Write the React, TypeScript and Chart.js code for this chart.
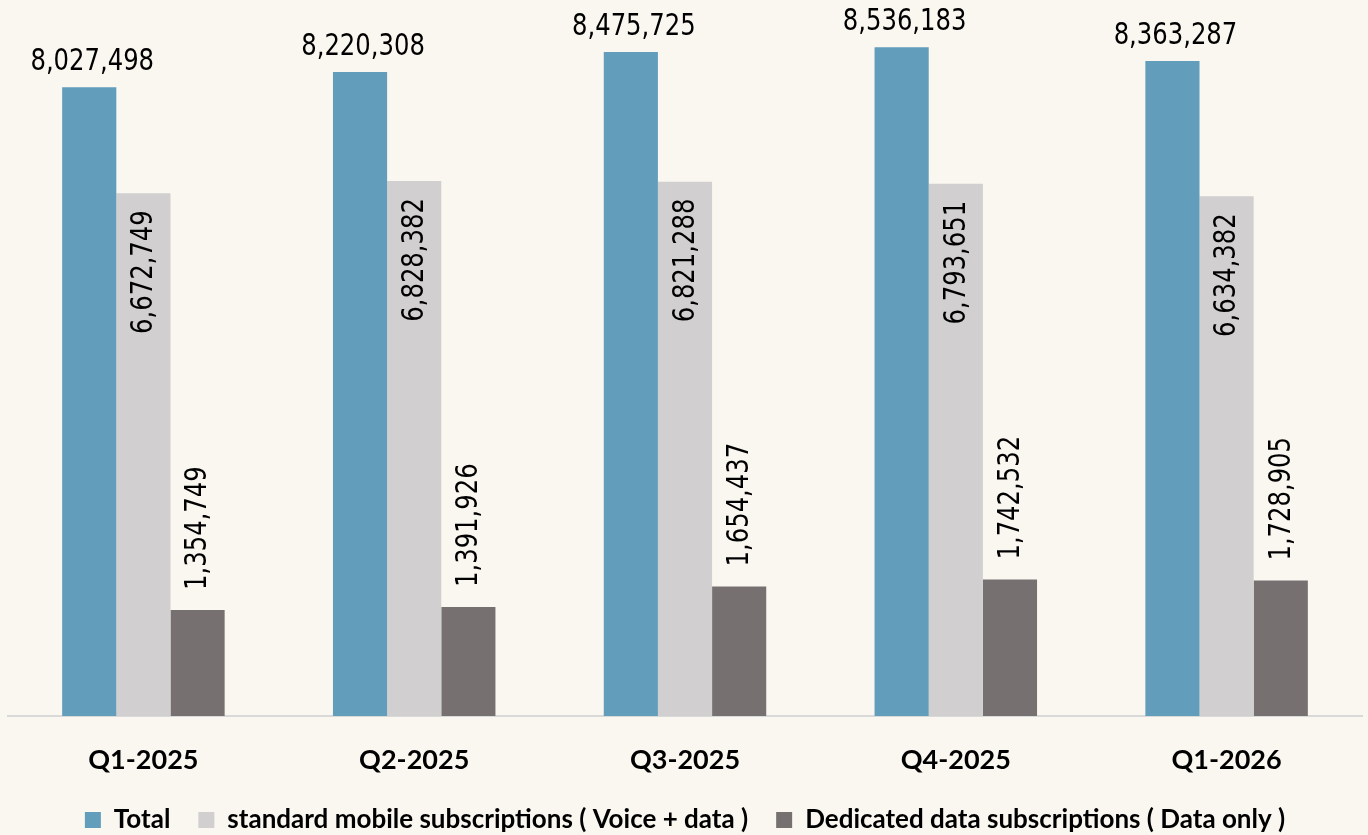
import React, { useEffect, useRef } from "react";
import { Chart, registerables } from "chart.js";

Chart.register(...registerables);

const categories = ["Q1-2025", "Q2-2025", "Q3-2025", "Q4-2025", "Q1-2026"];
const totalValues = [8027498, 8220308, 8475725, 8536183, 8363287];
const standardValues = [6672749, 6828382, 6821288, 6793651, 6634382];
const dedicatedValues = [1354749, 1391926, 1654437, 1742532, 1728905];
const seriesNames = [
  "Total",
  "standard mobile subscriptions ( Voice + data )",
  "Dedicated data subscriptions ( Data only )",
];

const BG = "#faf7f0";
const LABEL_FONT = "30px 'DejaVu Sans Condensed', sans-serif";
const LABEL_SQUEEZE = 0.9;

const fmt = (v: number) => v.toLocaleString("en-US");

const labelPlugin = {
  id: "barLabels",
  afterDatasetsDraw(chart: any) {
    const ctx = chart.ctx;
    ctx.save();
    ctx.fillStyle = "#000";
    ctx.font = LABEL_FONT;
    chart.data.datasets.forEach((ds: any, di: number) => {
      const meta = chart.getDatasetMeta(di);
      meta.data.forEach((el: any, i: number) => {
        const v = ds.data[i] as number;
        const text = fmt(v);
        ctx.save();
        if (di === 0) {
          ctx.translate(el.x + 3, el.y - 17);
          ctx.scale(LABEL_SQUEEZE, 1);
          ctx.textAlign = "center";
          ctx.textBaseline = "alphabetic";
        } else if (di === 1) {
          ctx.translate(el.x + 1, el.y + 17);
          ctx.rotate(-Math.PI / 2);
          ctx.scale(LABEL_SQUEEZE, 1);
          ctx.textAlign = "right";
          ctx.textBaseline = "middle";
        } else {
          ctx.translate(el.x + 1, el.y - 20);
          ctx.rotate(-Math.PI / 2);
          ctx.scale(LABEL_SQUEEZE, 1);
          ctx.textAlign = "left";
          ctx.textBaseline = "middle";
        }
        ctx.fillText(text, 0, 0);
        ctx.restore();
      });
    });
    ctx.restore();
  },
};

export default function App() {
  const ref = useRef<HTMLCanvasElement | null>(null);

  useEffect(() => {
    document.body.style.margin = "0";
    document.body.style.background = BG;
    const canvas = ref.current;
    if (!canvas) return;
    const chart = new Chart(canvas, {
      type: "bar",
      data: {
        labels: categories,
        datasets: [
          { label: seriesNames[0], data: totalValues, backgroundColor: "#639dbc" },
          { label: seriesNames[1], data: standardValues, backgroundColor: "#d1cfd0" },
          { label: seriesNames[2], data: dedicatedValues, backgroundColor: "#767170" },
        ],
      },
      options: {
        animation: false,
        responsive: false,
        maintainAspectRatio: false,
        layout: { padding: { left: 8, right: 6, top: 11, bottom: -8 } },
        datasets: {
          bar: { categoryPercentage: 0.6, barPercentage: 1.0 },
        } as any,
        scales: {
          x: {
            grid: { display: false },
            border: { display: true, color: "#d9d9d9", width: 2 },
            ticks: {
              color: "#000",
              padding: 20,
              font: { family: "Lato", weight: "bold", size: 27 },
            },
            afterFit: (scale: any) => {
              scale.height = 63;
            },
          },
          y: {
            display: false,
            min: 0,
            max: 9000000,
          },
        },
        plugins: {
          legend: {
            position: "bottom",
            labels: {
              color: "#000",
              boxWidth: 16,
              boxHeight: 16,
              padding: 28,
              font: { family: "Lato", weight: "bold", size: 26 },
            },
          },
          tooltip: { enabled: false },
        },
      },
      plugins: [labelPlugin],
    });
    return () => chart.destroy();
  }, []);

  return (
    <div style={{ width: 1368, height: 835, background: BG, overflow: "hidden" }}>
      <canvas ref={ref} width={1368} height={835} style={{ display: "block" }} />
    </div>
  );
}
